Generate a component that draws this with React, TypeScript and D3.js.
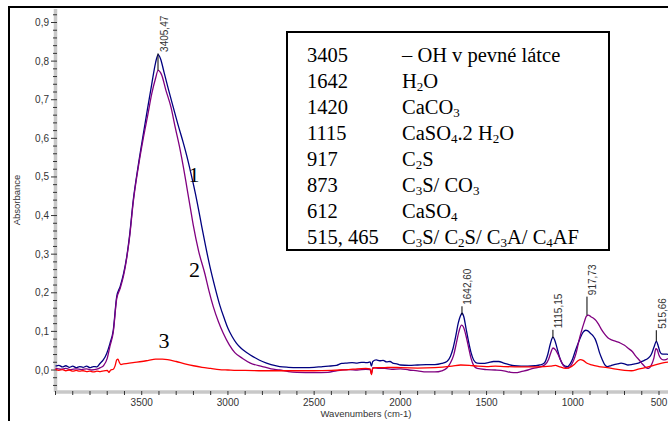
import React from 'react';
import * as d3 from 'd3';

// spectrum 1 (blue), 2 (purple), 3 (red): [wavenumber, absorbance]
const spectrum1: [number, number][] = [
  [4000, 0.010], [3980, 0.012], [3960, 0.008], [3940, 0.011], [3920, 0.007], [3900, 0.010],
  [3880, 0.006], [3860, 0.009], [3840, 0.007], [3820, 0.010], [3800, 0.006], [3780, 0.009],
  [3760, 0.008], [3742, 0.017], [3723, 0.026], [3703, 0.043], [3684, 0.069], [3665, 0.103],
  [3645, 0.190], [3626, 0.215], [3605, 0.250], [3587, 0.293], [3570, 0.350], [3549, 0.440],
  [3520, 0.530], [3491, 0.610], [3465, 0.680], [3442, 0.740], [3420, 0.795], [3405, 0.817],
  [3390, 0.805], [3370, 0.770], [3345, 0.727], [3318, 0.682], [3290, 0.636], [3260, 0.590],
  [3239, 0.555], [3215, 0.510], [3191, 0.462], [3170, 0.415], [3152, 0.372], [3130, 0.322],
  [3104, 0.267], [3075, 0.214], [3046, 0.166], [3020, 0.132], [3000, 0.108], [2975, 0.086],
  [2950, 0.069], [2925, 0.057], [2900, 0.048], [2870, 0.039], [2840, 0.031], [2800, 0.022],
  [2750, 0.014], [2700, 0.009], [2650, 0.007], [2600, 0.006], [2550, 0.006], [2500, 0.007],
  [2450, 0.009], [2416, 0.010], [2370, 0.012], [2340, 0.017], [2310, 0.018], [2280, 0.019],
  [2250, 0.018], [2225, 0.020], [2195, 0.019], [2175, 0.021], [2168, 0.010], [2160, 0.022],
  [2140, 0.026], [2120, 0.024], [2100, 0.025], [2080, 0.021], [2060, 0.022], [2040, 0.017],
  [2020, 0.016], [2000, 0.013], [1950, 0.012], [1900, 0.013], [1850, 0.014], [1800, 0.014],
  [1760, 0.017], [1730, 0.022], [1710, 0.035], [1695, 0.055], [1680, 0.085], [1665, 0.120],
  [1652, 0.140], [1642, 0.147], [1632, 0.138], [1620, 0.110], [1605, 0.075], [1590, 0.045],
  [1575, 0.026], [1555, 0.018], [1520, 0.017], [1490, 0.019], [1460, 0.022], [1430, 0.022],
  [1400, 0.018], [1370, 0.014], [1340, 0.011], [1300, 0.010], [1260, 0.010], [1220, 0.011],
  [1190, 0.013], [1165, 0.018], [1145, 0.040], [1130, 0.068], [1115, 0.085], [1105, 0.078],
  [1092, 0.058], [1078, 0.035], [1062, 0.017], [1045, 0.010], [1030, 0.009], [1015, 0.016],
  [1000, 0.030], [985, 0.050], [970, 0.068], [955, 0.085], [940, 0.098], [925, 0.103],
  [915, 0.102], [900, 0.096], [885, 0.090], [870, 0.080], [858, 0.065], [845, 0.045],
  [830, 0.028], [815, 0.014], [800, 0.009], [780, 0.011], [760, 0.014], [740, 0.016],
  [720, 0.018], [700, 0.016], [680, 0.013], [660, 0.014], [640, 0.016], [620, 0.018],
  [605, 0.021], [585, 0.025], [565, 0.030], [545, 0.040], [530, 0.058], [515, 0.074],
  [505, 0.063], [495, 0.048], [485, 0.042], [470, 0.041], [455, 0.041], [440, 0.040], [430, 0.040],
];

const spectrum2: [number, number][] = [
  [4000, 0.004], [3970, 0.002], [3940, 0.004], [3910, 0.001], [3880, 0.003], [3850, 0.001],
  [3820, 0.003], [3790, 0.000], [3760, 0.002], [3740, 0.006], [3720, 0.012], [3700, 0.030],
  [3685, 0.060], [3665, 0.098], [3645, 0.185], [3626, 0.210], [3605, 0.245], [3587, 0.290],
  [3570, 0.345], [3549, 0.435], [3520, 0.525], [3491, 0.600], [3465, 0.660], [3442, 0.715],
  [3420, 0.755], [3405, 0.776], [3385, 0.765], [3360, 0.725], [3330, 0.680], [3305, 0.627],
  [3278, 0.572], [3258, 0.525], [3237, 0.470], [3218, 0.420], [3201, 0.375], [3170, 0.308],
  [3133, 0.248], [3110, 0.205], [3085, 0.164], [3055, 0.125], [3027, 0.095], [2992, 0.065],
  [2960, 0.045], [2915, 0.030], [2870, 0.018], [2800, 0.009], [2750, 0.003], [2700, 0.000],
  [2650, -0.004], [2600, -0.006], [2500, -0.007], [2420, -0.006], [2370, -0.002], [2340, 0.000],
  [2300, 0.001], [2250, 0.000], [2200, 0.002], [2175, 0.001], [2168, -0.010], [2160, 0.006],
  [2120, 0.004], [2090, 0.004], [2050, 0.002], [2000, 0.003], [1950, 0.000], [1900, -0.002],
  [1850, -0.005], [1800, -0.005], [1760, -0.002], [1730, 0.005], [1710, 0.018], [1690, 0.040],
  [1675, 0.070], [1660, 0.100], [1645, 0.116], [1635, 0.112], [1620, 0.090], [1605, 0.060],
  [1590, 0.030], [1575, 0.012], [1555, 0.004], [1500, 0.001], [1450, 0.000], [1400, -0.002],
  [1360, -0.006], [1330, -0.007], [1300, -0.004], [1260, 0.000], [1230, 0.004], [1190, 0.008],
  [1160, 0.014], [1140, 0.028], [1125, 0.048], [1115, 0.057], [1100, 0.052], [1085, 0.040],
  [1070, 0.025], [1055, 0.012], [1040, 0.006], [1025, 0.005], [1010, 0.012], [995, 0.025],
  [980, 0.045], [965, 0.075], [950, 0.100], [935, 0.122], [920, 0.140], [910, 0.142],
  [895, 0.138], [880, 0.134], [865, 0.128], [850, 0.118], [835, 0.106], [815, 0.093],
  [795, 0.083], [775, 0.078], [750, 0.074], [725, 0.070], [700, 0.064], [675, 0.055],
  [655, 0.048], [635, 0.036], [615, 0.026], [595, 0.015], [575, 0.006], [560, 0.004],
  [545, 0.012], [530, 0.030], [518, 0.055], [510, 0.052], [500, 0.038], [490, 0.030],
  [475, 0.026], [460, 0.027], [445, 0.030], [430, 0.031],
];

const spectrum3: [number, number][] = [
  [4000, 0.002], [3980, -0.001], [3960, 0.001], [3940, -0.002], [3920, 0.000], [3900, -0.003],
  [3880, -0.001], [3860, -0.003], [3840, -0.002], [3820, -0.004], [3800, -0.003], [3780, -0.005],
  [3760, -0.003], [3740, -0.004], [3720, -0.002], [3700, -0.001], [3690, -0.006], [3680, 0.000],
  [3665, 0.002], [3655, 0.010], [3645, 0.026], [3638, 0.028], [3630, 0.020], [3620, 0.014],
  [3605, 0.016], [3580, 0.017], [3550, 0.019], [3500, 0.022], [3460, 0.025], [3420, 0.028],
  [3380, 0.028], [3350, 0.027], [3300, 0.022], [3250, 0.016], [3200, 0.011], [3150, 0.007],
  [3100, 0.004], [3050, 0.001], [3000, 0.000], [2950, -0.001], [2900, -0.001], [2800, -0.002],
  [2700, -0.002], [2600, -0.002], [2500, -0.002], [2400, -0.001], [2350, 0.000], [2300, 0.001],
  [2250, 0.003], [2200, 0.004], [2175, 0.003], [2168, -0.012], [2160, 0.004], [2140, 0.006],
  [2100, 0.006], [2050, 0.007], [2000, 0.006], [1900, 0.005], [1800, 0.006], [1700, 0.010],
  [1650, 0.013], [1600, 0.012], [1550, 0.010], [1500, 0.009], [1450, 0.010], [1400, 0.009],
  [1300, 0.008], [1200, 0.008], [1130, 0.010], [1100, 0.012], [1080, 0.009], [1040, 0.004],
  [1020, 0.006], [990, 0.015], [970, 0.024], [955, 0.027], [940, 0.025], [920, 0.018],
  [890, 0.013], [850, 0.009], [800, 0.006], [750, 0.002], [700, -0.001], [660, -0.002],
  [620, 0.002], [580, 0.006], [540, 0.011], [500, 0.016], [470, 0.019], [440, 0.021],
];

// marked peaks
const peakWn = [3405.47, 1642.6, 1115.15, 917.73, 515.66];
const peakText = ['3405,47', '1642,60', '1115,15', '917,73', '515,66'];
const peakLow = [0.776, 0.142, 0.082, 0.142, 0.074];
const peakHigh = [0.82, 0.165, 0.104, 0.19, 0.103];

// legend table, "_n" marks a subscript
const bandWn = ['3405', '1642', '1420', '1115', '917', '873', '612', '515, 465'];
const bandName = [
  '– OH v pevné látce', 'H_2O', 'CaCO_3', 'CaSO_4.2 H_2O', 'C_2S', 'C_3S/ CO_3', 'CaSO_4',
  'C_3S/ C_2S/ C_3A/ C_4AF',
];

const seriesNames = ['1', '2', '3'];

const W = 668;
const H = 421;
const sans = '"Liberation Sans", Arial, sans-serif';
const serif = '"Liberation Serif", "Times New Roman", serif';

const x = d3.scaleLinear().domain([4000, 500]).range([55.5, 659]);
const y = d3.scaleLinear().domain([0, 0.9]).range([370, 22.5]);

const line = d3.line<[number, number]>()
  .x(d => x(d[0]))
  .y(d => y(d[1]))
  .curve(d3.curveMonotoneX);

function Name({ s }: { s: string }) {
  const parts = s.split(/(_\d)/).filter(p => p !== '');
  let sub = false;
  return (
    <>
      {parts.map((p, i) => {
        if (p.startsWith('_')) {
          sub = true;
          return <tspan key={i} dy={3} fontSize={13}>{p.slice(1)}</tspan>;
        }
        const dy = sub ? -3 : 0;
        sub = false;
        return <tspan key={i} dy={dy}>{p}</tspan>;
      })}
    </>
  );
}

export default function App() {
  const yMajor = d3.range(0, 10).map(i => i / 10);
  const yMinor = d3.range(-2, 47).filter(i => i % 5 !== 0).map(i => i * 0.02);
  const xTicks = d3.range(500, 4001, 100);
  const xLabels = d3.range(500, 4000, 500);
  const axisY = 392;
  const axisX = 55.5;

  return (
    <svg width={W} height={H} style={{ position: 'absolute', left: 0, top: 0, background: '#fff' }}>
      <rect width={W} height={H} fill="#fff" />
      {/* outer frame */}
      <path d={`M9,421V7H${W}`} fill="none" stroke="#000" strokeWidth={2} />

      {/* axes */}
      <line x1={axisX} x2={axisX} y1={9} y2={axisY} stroke="#c8c8c8" strokeWidth={3.5} />
      <line x1={axisX} x2={W} y1={axisY} y2={axisY} stroke="#c8c8c8" strokeWidth={3.5} />
      {yMinor.map(v => (
        <line key={'m' + v} x1={53} x2={57} y1={y(v)} y2={y(v)} stroke="#333" strokeWidth={1} />
      ))}
      {yMajor.map(v => (
        <g key={v}>
          <line x1={51} x2={57} y1={y(v)} y2={y(v)} stroke="#333" strokeWidth={1} />
          <text x={49} y={y(v) + 3.5} textAnchor="end" fontFamily={sans} fontSize={10} fill="#333">
            {v.toFixed(1).replace('.', ',')}
          </text>
        </g>
      ))}
      {xTicks.map(v => (
        <line key={v} x1={x(v)} x2={x(v)} y1={axisY - 1} y2={axisY + 3} stroke="#333" strokeWidth={1} />
      ))}
      {xLabels.map(v => (
        <text key={v} x={x(v)} y={406} textAnchor="middle" fontFamily={sans} fontSize={10} fill="#333">
          {v}
        </text>
      ))}
      <text x={366} y={417} textAnchor="middle" fontFamily={sans} fontSize={9.5} fill="#333">
        Wavenumbers (cm-1)
      </text>
      <text transform="translate(20,200) rotate(-90)" textAnchor="middle" fontFamily={sans} fontSize={9.5} fill="#333">
        Absorbance
      </text>

      {/* spectra */}
      <path d={line(spectrum1) || ''} fill="none" stroke="#000080" strokeWidth={1.3} />
      <path d={line(spectrum2) || ''} fill="none" stroke="#800080" strokeWidth={1.3} />
      <path d={line(spectrum3) || ''} fill="none" stroke="#ff0000" strokeWidth={1.3} />

      {/* peak marks */}
      {peakWn.map((wn, i) => (
        <g key={wn}>
          <line x1={x(wn)} x2={x(wn)} y1={y(peakLow[i])} y2={y(peakHigh[i])} stroke="#000" strokeWidth={1} />
          <text
            transform={`translate(${x(wn) + 9.5},${y(peakHigh[i]) - 1.5}) rotate(-90)`}
            fontFamily={sans} fontSize={10} fill="#333"
          >
            {peakText[i]}
          </text>
        </g>
      ))}

      {/* curve numbers */}
      <text x={194} y={182} textAnchor="middle" fontFamily={serif} fontSize={22}>{seriesNames[0]}</text>
      <text x={194.5} y={277} textAnchor="middle" fontFamily={serif} fontSize={22}>{seriesNames[1]}</text>
      <text x={164} y={348} textAnchor="middle" fontFamily={serif} fontSize={22}>{seriesNames[2]}</text>

      {/* band table */}
      <rect x={287} y={32} width={322} height={218} fill="#fff" stroke="#000" strokeWidth={2} />
      {bandWn.map((wn, i) => (
        <g key={wn}>
          <text x={307} y={62 + i * 26} fontFamily={serif} fontSize={20.5} fill="#000">{wn}</text>
          <text x={402} y={62 + i * 26} fontFamily={serif} fontSize={20.5} fill="#000">
            <Name s={bandName[i]} />
          </text>
        </g>
      ))}
    </svg>
  );
}
